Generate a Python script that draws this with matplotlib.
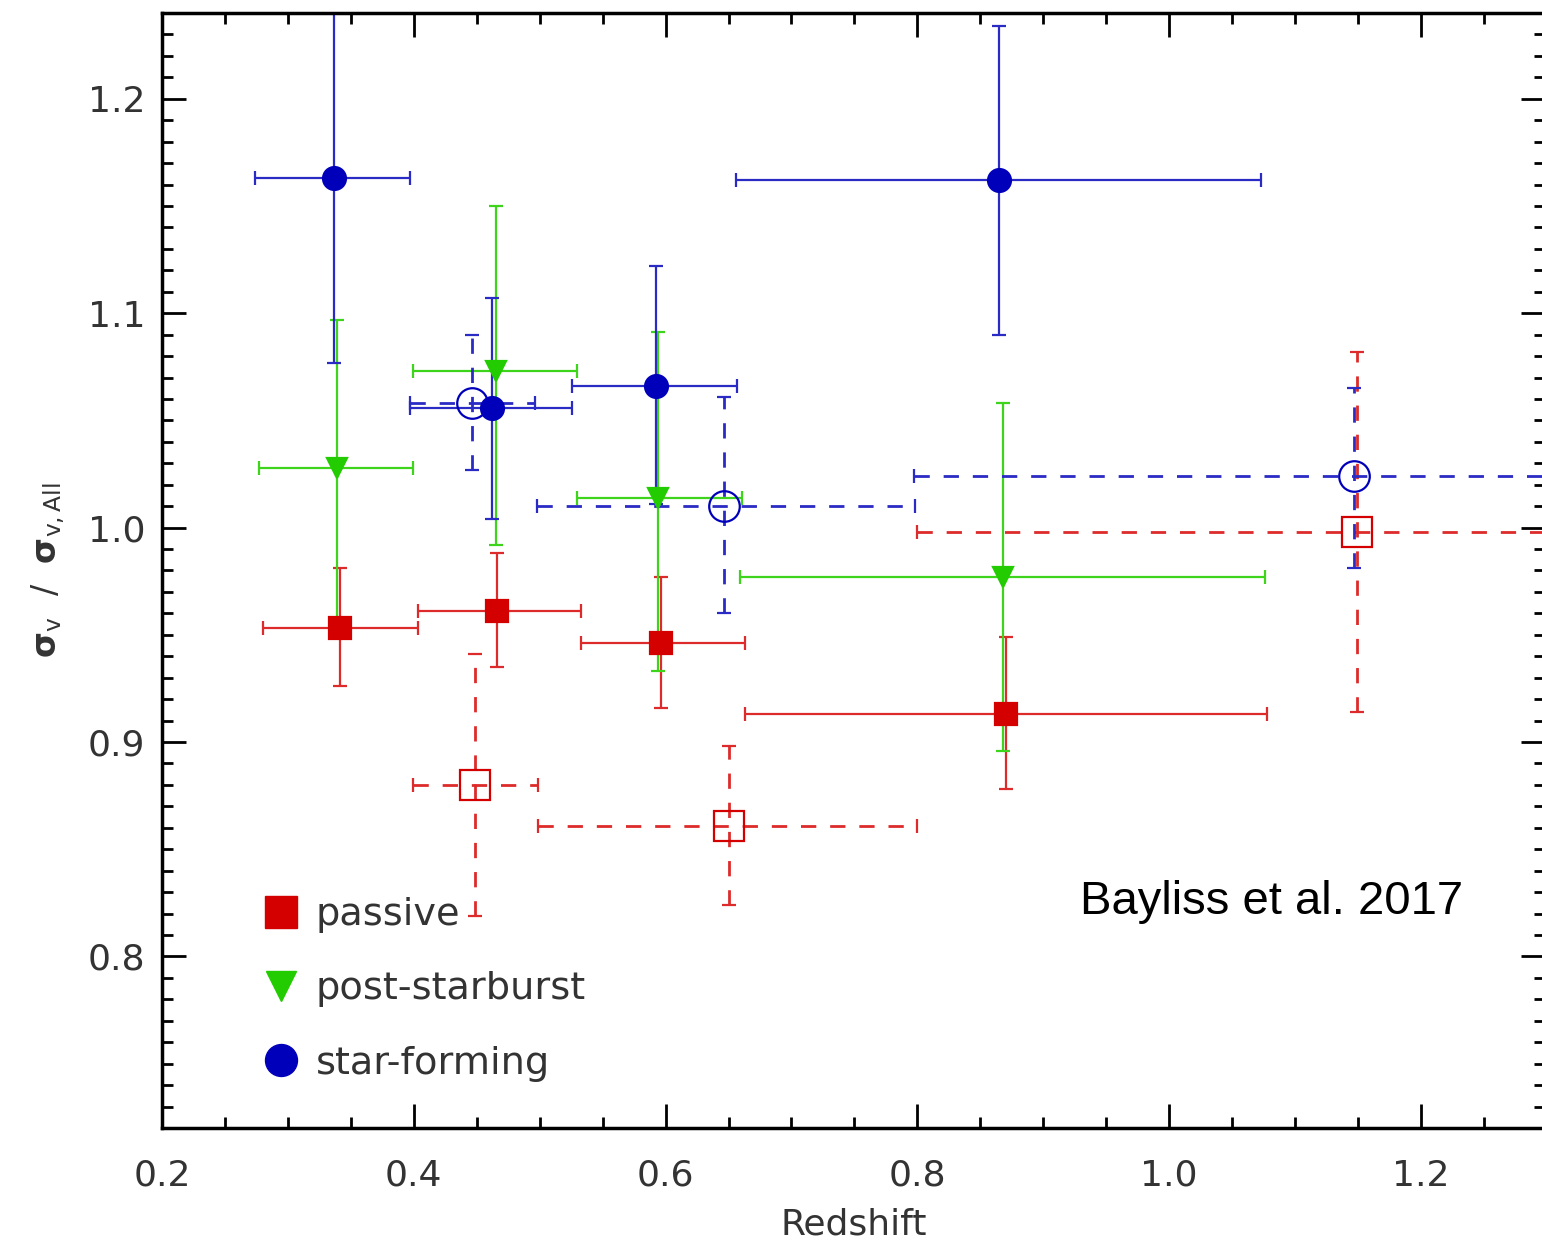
import matplotlib
import numpy as np

matplotlib.use('agg')

import matplotlib.pyplot as plt
from matplotlib.lines import Line2D
from matplotlib.ticker import MultipleLocator

# values (redshift bins + sigma ratio with errors)
# passive, filled squares
pas_z = [0.341, 0.466, 0.596, 0.870]
pas_zlo = [0.280, 0.403, 0.533, 0.663]
pas_zhi = [0.403, 0.533, 0.663, 1.078]
pas_v = [0.953, 0.961, 0.946, 0.913]
pas_vlo = [0.926, 0.935, 0.916, 0.878]
pas_vhi = [0.981, 0.988, 0.977, 0.949]

# post-starburst, filled down triangles
psb_z = [0.339, 0.465, 0.594, 0.868]
psb_zlo = [0.277, 0.399, 0.530, 0.659]
psb_zhi = [0.399, 0.530, 0.661, 1.076]
psb_v = [1.028, 1.073, 1.014, 0.977]
psb_vlo = [0.957, 0.992, 0.933, 0.896]
psb_vhi = [1.097, 1.150, 1.091, 1.058]

# star-forming, filled circles
sf_z = [0.337, 0.462, 0.592, 0.865]
sf_zlo = [0.274, 0.397, 0.526, 0.656]
sf_zhi = [0.397, 0.526, 0.657, 1.073]
sf_v = [1.163, 1.056, 1.066, 1.162]
sf_vlo = [1.077, 1.004, 1.011, 1.090]
sf_vhi = [1.249, 1.107, 1.122, 1.234]

# open symbols with dashed errors (second sample)
pas2_z = [0.449, 0.650, 1.149]
pas2_zlo = [0.399, 0.499, 0.800]
pas2_zhi = [0.499, 0.800, 1.500]
pas2_v = [0.880, 0.861, 0.998]
pas2_vlo = [0.819, 0.824, 0.914]
pas2_vhi = [0.941, 0.898, 1.082]

sf2_z = [0.446, 0.646, 1.147]
sf2_zlo = [0.397, 0.498, 0.797]
sf2_zhi = [0.496, 0.798, 1.500]
sf2_v = [1.058, 1.010, 1.024]
sf2_vlo = [1.027, 0.960, 0.981]
sf2_vhi = [1.090, 1.061, 1.065]

RED = '#d40000'
GREEN = '#22cc00'
BLUE = '#0000bb'
# error bars look a bit paler than the symbols
RED_L = '#dd2a2a'
GREEN_L = '#3fd41c'
BLUE_L = '#2a2ac4'
TXT = '#333333'

plt.rcParams['font.family'] = ['DejaVu Sans']


def draw(ax, z, zlo, zhi, v, vlo, vhi, color, ecolor, marker, ms,
         filled=True, dashed=False):
    z, zlo, zhi = np.asarray(z), np.asarray(zlo), np.asarray(zhi)
    v, vlo, vhi = np.asarray(v), np.asarray(vlo), np.asarray(vhi)
    lw = 2.0 if dashed else 1.6
    eb = ax.errorbar(z, v, xerr=[z - zlo, zhi - z], yerr=[v - vlo, vhi - v],
                     fmt=marker, ms=ms, color=color,
                     mfc=color if filled else 'none', mec=color, mew=1.6,
                     elinewidth=lw, ecolor=ecolor, capsize=5, capthick=lw)
    if dashed:
        for lc in eb[2]:
            lc.set_linestyle((0, (5.5, 5)))
    return eb


fig = plt.figure(figsize=(15.42, 12.41), dpi=100)
# x scale: 1259 px per unit; right spine sits just past the canvas edge
ax = fig.add_axes([162 / 1542, 113 / 1241, 1383 / 1542, 1115 / 1241])

draw(ax, pas_z, pas_zlo, pas_zhi, pas_v, pas_vlo, pas_vhi, RED, RED_L, 's', 16.5)
draw(ax, psb_z, psb_zlo, psb_zhi, psb_v, psb_vlo, psb_vhi, GREEN, GREEN_L, 'v', 15)
draw(ax, sf_z, sf_zlo, sf_zhi, sf_v, sf_vlo, sf_vhi, BLUE, BLUE_L, 'o', 16.5)
draw(ax, pas2_z, pas2_zlo, pas2_zhi, pas2_v, pas2_vlo, pas2_vhi, RED, RED_L, 's', 22,
     filled=False, dashed=True)
draw(ax, sf2_z, sf2_zlo, sf2_zhi, sf2_v, sf2_vlo, sf2_vhi, BLUE, BLUE_L, 'o', 22,
     filled=False, dashed=True)

ax.set_xlim(0.2, 1.2985)
ax.set_ylim(0.72, 1.24)
ax.xaxis.set_major_locator(MultipleLocator(0.2))
ax.xaxis.set_minor_locator(MultipleLocator(0.05))
ax.yaxis.set_major_locator(MultipleLocator(0.1))
ax.yaxis.set_minor_locator(MultipleLocator(0.01))
ax.xaxis.set_major_formatter(lambda x, pos: f'{x:.1f}')
ax.yaxis.set_major_formatter(lambda y, pos: f'{y:.1f}')

ax.tick_params(which='both', direction='in', top=True, right=True,
               width=2, color='black', labelcolor=TXT, labelsize=26)
ax.tick_params(which='major', length=17)
ax.tick_params(which='minor', length=8)
ax.tick_params(axis='x', pad=22)
ax.tick_params(axis='y', pad=12)
for sp in ax.spines.values():
    sp.set_linewidth(2.5)
ax.spines['right'].set_visible(False)

ax.set_xlabel('Redshift', fontsize=26, color=TXT)
ax.xaxis.set_label_coords(0.5, -0.071)
ax.set_ylabel(r'$\mathbf{\sigma}_{\rm v}$  /  $\mathbf{\sigma}_{\rm v,All}$',
              fontsize=24, color=TXT)
ax.yaxis.set_label_coords(-0.069, 0.5)

handles = [
    Line2D([], [], ls='none', marker='s', ms=23, color=RED, mec=RED),
    Line2D([], [], ls='none', marker='v', ms=21, color=GREEN, mec=GREEN),
    Line2D([], [], ls='none', marker='o', ms=23, color=BLUE, mec=BLUE),
]
leg = ax.legend(handles, ['passive', 'post-starburst', 'star-forming'],
                loc='upper left', bbox_to_anchor=(0.075, 0.207),
                frameon=False, fontsize=27.5, labelcolor=TXT,
                handlelength=0.8, handletextpad=0.5, labelspacing=1.0,
                borderpad=0, borderaxespad=0, numpoints=1)

ax.text(1.081, 0.8255, 'Bayliss et al. 2017', family='Liberation Sans',
        fontsize=34, color='black', ha='center', va='center')

fig.savefig('out.png', dpi=100)
plt.close(fig)
